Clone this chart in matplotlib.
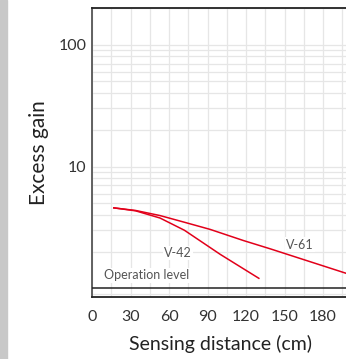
import matplotlib
matplotlib.use("Agg")
import matplotlib.pyplot as plt
from matplotlib.ticker import FixedLocator, NullFormatter, FixedFormatter, LogLocator
from matplotlib.patches import Rectangle

plt.rcParams['font.family'] = ['Lato', 'DejaVu Sans']

# Data
v61_x = [17, 34, 53, 72, 92, 118, 139, 198]
v61_y = [4.58, 4.36, 3.96, 3.49, 3.05, 2.47, 2.11, 1.33]
v42_x = [17, 34, 53, 72, 100, 130]
v42_y = [4.58, 4.33, 3.78, 3.00, 1.90, 1.21]
operation_level = 1.0
x_ticks = [0, 30, 60, 90, 120, 150, 180]
y_ticks = [10, 100]
y_tick_labels = ["10", "100"]

fig = plt.figure(figsize=(3.46, 3.59), dpi=100)
fig.patches.append(Rectangle((0, 0), 7/346, 1, transform=fig.transFigure,
                             color='#c8c8c8', zorder=0))
ax = fig.add_axes([92/346, 62/359, 256.7/346, 289/359])
ax.set_yscale('log')
ax.set_xlim(0, 200)
ax.set_ylim(0.85, 200)

ax.xaxis.set_major_locator(FixedLocator(x_ticks))
ax.xaxis.set_minor_locator(FixedLocator(list(range(0, 201, 15))))
ax.yaxis.set_major_locator(FixedLocator(y_ticks))
ax.yaxis.set_major_formatter(FixedFormatter(y_tick_labels))
ax.yaxis.set_minor_locator(LogLocator(base=10, subs=[2, 3, 4, 5, 6, 7, 8, 9]))
ax.yaxis.set_minor_formatter(NullFormatter())

grid_kw = dict(color='#e6e6e6', linewidth=0.9)
ax.grid(True, which='both', axis='both', **grid_kw)
ax.set_axisbelow(True)
ax.tick_params(which='both', length=0, labelsize=11.5, labelcolor='#333333')
ax.tick_params(axis='x', pad=9.5)
ax.tick_params(axis='y', pad=4)

for s in ['top', 'bottom']:
    ax.spines[s].set_color('#222222')
    ax.spines[s].set_linewidth(1.3)
ax.spines['left'].set_color('#555555')
ax.spines['left'].set_linewidth(1.3)
ax.spines['right'].set_visible(False)

ax.axhline(operation_level, color='#222222', linewidth=1.1, zorder=3)

red = '#e2001a'
ax.plot(v61_x, v61_y, color=red, linewidth=1.1, zorder=4)
ax.plot(v42_x, v42_y, color=red, linewidth=1.1, zorder=4)

bbox = dict(facecolor='white', edgecolor='none', pad=1)
ax.text(67, 1.95, "V-42", fontsize=9, color='#555555', ha='center', va='center', bbox=bbox, zorder=5)
ax.text(162, 2.29, "V-61", fontsize=9, color='#555555', ha='center', va='center', bbox=bbox, zorder=5)
ax.text(9, 1.28, "Operation level", fontsize=9, color='#555555', ha='left', va='center', bbox=bbox, zorder=5)

ax.set_xlabel("Sensing distance (cm)", fontsize=14, color='#222222', labelpad=8)
ax.set_ylabel("Excess gain", fontsize=15, color='#222222', labelpad=7)

fig.savefig("out.png", dpi=100)
